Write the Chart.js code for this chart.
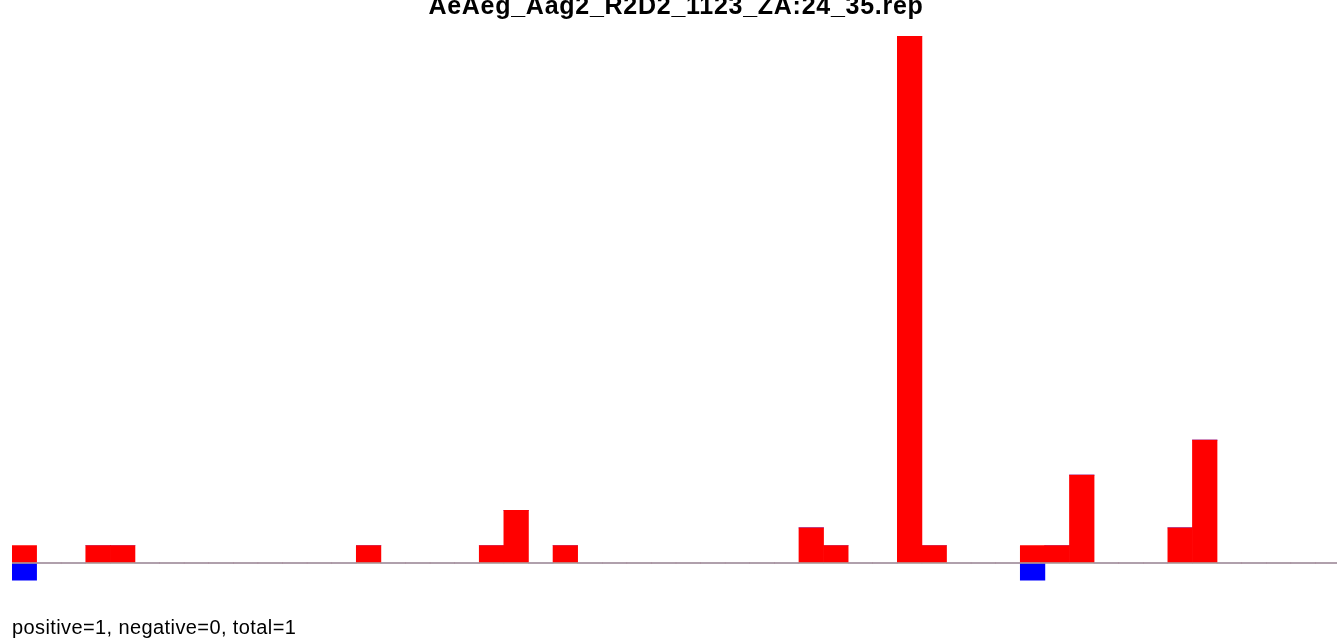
<!DOCTYPE html>
<html>
<head>
<meta charset="utf-8">
<script src="https://cdn.jsdelivr.net/npm/chart.js@4/dist/chart.umd.min.js"></script>
<style>
  html, body { margin: 0; padding: 0; background: #ffffff; overflow: hidden; width: 1337px; height: 639px; }
  #wrap { position: relative; width: 1337px; height: 639px; overflow: hidden; }
  #c { position: absolute; left: 0; top: 0; }
  #title { position: absolute; left: 0; width: 1352px; top: -7px; text-align: center;
    font-family: "Liberation Sans", Arial, Helvetica, sans-serif; font-weight: bold; font-size: 25px;
    line-height: 25px; letter-spacing: 0.73px; color: #000; white-space: nowrap; }
  #footer { position: absolute; left: 12px; top: 616.5px;
    font-family: "Liberation Sans", Arial, Helvetica, sans-serif; font-size: 20px;
    line-height: 20px; letter-spacing: 0.4px; color: #000; white-space: nowrap; }
</style>
</head>
<body>
<div id="wrap">
  <canvas id="c" width="1340" height="639"></canvas>
  <div id="title">AeAeg_Aag2_R2D2_1123_ZA:24_35.rep</div>
  <div id="footer">positive=1, negative=0, total=1</div>
</div>
<script>
const positions = ["1","2","3","4","5","6","7","8","9","10","11","12","13","14","15","16","17","18",
  "19","20","21","22","23","24","25","26","27","28","29","30","31","32","33","34","35","36",
  "37","38","39","40","41","42","43","44","45","46","47","48","49","50","51","52","53","54"];
const positiveReads = [1,0,0,1,1,0,0,0,0,0,0,0,0,0,1,0,0,0,
  0,1,3,0,1,0,0,0,0,0,0,0,0,0,2,1,0,0,
  30,1,0,0,0,1,1,5,0,0,0,2,7,0,0,0,0,0];
const negativeReads = [-1,0,0,0,0,0,0,0,0,0,0,0,0,0,0,0,0,0,
  0,0,0,0,0,0,0,0,0,0,0,0,0,0,0,0,0,0,
  0,0,0,0,0,-1,0,0,0,0,0,0,0,0,0,0,0,0];
const yMin = -1;
const yMax = 30;

const zeroLine = {
  id: 'zeroLine',
  afterDatasetsDraw(chart) {
    const ctx = chart.ctx;
    const y = chart.scales.y.getPixelForValue(0);
    ctx.save();
    ctx.strokeStyle = '#a6a6a6';
    ctx.lineWidth = 1.5;
    ctx.beginPath();
    ctx.moveTo(chart.chartArea.left, y);
    ctx.lineTo(chart.chartArea.right, y);
    ctx.stroke();
    ctx.restore();
  }
};

new Chart(document.getElementById('c'), {
  type: 'bar',
  data: {
    labels: positions,
    datasets: [
      { label: 'positive', data: positiveReads, backgroundColor: '#ff0000', borderWidth: 0,
        categoryPercentage: 1.0, barPercentage: 1.0 },
      { label: 'negative', data: negativeReads, backgroundColor: '#0000ff', borderWidth: 0,
        categoryPercentage: 1.0, barPercentage: 1.0 }
    ]
  },
  options: {
    responsive: false,
    animation: false,
    devicePixelRatio: 1,
    layout: { padding: { left: 12, right: 0, top: 36, bottom: 58.4 } },
    plugins: { legend: { display: false }, tooltip: { enabled: false }, title: { display: false } },
    scales: {
      x: { stacked: true, display: false, offset: true },
      y: { stacked: true, display: false, min: yMin, max: yMax }
    }
  },
  plugins: [zeroLine]
});
</script>
</body>
</html>
